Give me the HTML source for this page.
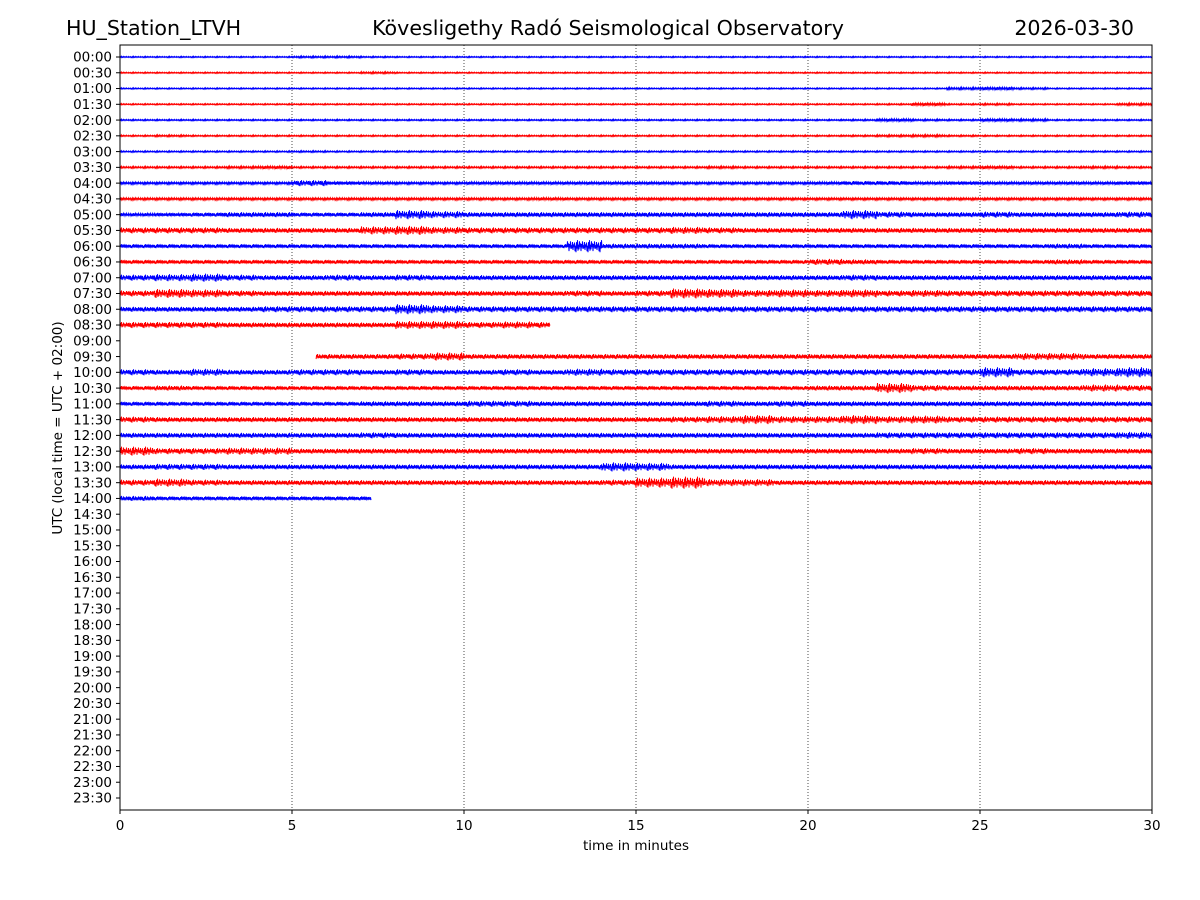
<!DOCTYPE html>
<html><head><meta charset="utf-8">
<style>
body{margin:0;background:#fff;}
svg{display:block;font-family:"DejaVu Sans","Liberation Sans",sans-serif;}
</style></head>
<body>
<svg id="chart" width="1200" height="900" viewBox="0 0 1200 900">
<text x="66" y="35" font-size="20.6">HU_Station_LTVH</text>
<text x="608" y="35" font-size="20.6" text-anchor="middle">Kövesligethy Radó Seismological Observatory</text>
<text x="1134" y="35" font-size="20.6" text-anchor="end">2026-03-30</text>
<g id="grid"></g>
<g id="traces"></g>
<rect x="120" y="45" width="1032" height="765" fill="none" stroke="#000" stroke-width="1"/>
<g id="axes" font-size="13.5"></g>
<text x="636" y="850" font-size="13.5" text-anchor="middle">time in minutes</text>
<text transform="translate(62,428) rotate(-90)" font-size="13.5" text-anchor="middle">UTC (local time = UTC + 02:00)</text>
</svg>
<script>
const xTicks=[0,5,10,15,20,25,30];
const rowLabels=[];for(let h=0;h<24;h++){const hh=String(h).padStart(2,'0');rowLabels.push(hh+':00',hh+':30');}
// per-row trace start/end in minutes (null = no data)
const rowStart=[0,0,0,0,0,0,0,0,0,0,0,0,0,0,0,0,0,0,null,5.7,0,0,0,0,0,0,0,0,0];
const rowEnd=[30,30,30,30,30,30,30,30,30,30,30,30,30,30,30,30,30,12.5,null,30,30,30,30,30,30,30,30,30,7.3];
// per-minute half-amplitude envelopes (px), 30 bins per row
const env=[
[.6,.6,.6,.6,.6,1,1,.8,.6,.6,.6,.6,.6,.6,.6,.6,.6,.6,.6,.6,.6,.6,.6,.6,.6,.6,.6,.6,.6,.6],
[.6,.6,.6,.6,.6,.6,.6,1,.6,.6,.6,.6,.6,.6,.6,.6,.6,.6,.6,.6,.6,.6,.6,.6,.6,.6,.6,.6,.6,.6],
[.7,.7,.7,.7,.7,.7,.7,.7,.7,.7,.7,.7,.7,.7,.7,.7,.7,.7,.7,.7,.7,.7,.7,.7,1.2,1.5,1,.7,.7,.7],
[.7,.7,.7,.7,.7,.7,.7,.7,.7,.7,.7,.7,.7,.7,.7,.7,.7,.7,.7,.7,.7,.7,.8,1.5,.8,1,.7,.7,.7,1.2],
[.8,.8,.8,.8,.8,.8,.8,.8,.8,.8,.8,.8,.8,.8,.8,.8,.8,.8,.8,.8,.8,.9,1.5,1,.9,1.5,1.2,.8,.8,.8],
[.8,1,.8,.8,.8,.8,.8,.8,.8,.8,.8,.8,.8,.8,.8,.8,.8,.8,.8,.8,.8,.9,1.1,1.2,.9,.8,.8,.8,.8,.8],
[.8,.8,.8,.8,.8,.9,.8,.8,.8,.8,.8,.8,.8,.8,.8,.8,.8,.8,.8,.8,.8,.8,.8,.8,.8,.8,.8,.8,.8,.8],
[1,1,1,1.2,1.5,1,1,1,1,1,1,1,1,1,1,1,1,1.2,1,1,1,1,1,1,1.2,1.5,1,1,1.2,1],
[1.3,1.3,1.3,1.3,1.3,3,1.8,1.5,1.3,1.3,1.5,1.5,1.5,1.5,1.5,1.5,1.3,1.3,1.3,1.3,1.5,2,2,1.5,1.8,1.5,1.5,1.5,1.5,1.8],
[1.3,1.3,1.3,1.3,1.3,1.3,1.3,1.3,1.3,1.3,1.3,1.3,1.5,1.3,1.3,1.3,1.3,1.3,1.3,1.3,1.3,1.3,1.3,1.3,1.3,1.3,1.3,1.3,1.3,1.3],
[1.5,1.8,2,2.5,2.5,2,2,2.5,4.5,3.5,2.5,2.5,2.5,2.5,2.5,2.5,2.5,2.5,2.5,2.5,2.5,4.5,3,2.5,2.5,3,2.5,2.5,2.5,3],
[3,3,3,2.5,2.5,2.5,2.5,4,4.5,3.5,3,3,3,3,3,3,3.5,3,2.5,2.5,2.5,2.5,2.5,2.5,2.5,2.5,2.5,2.5,2.5,2.5],
[2,2,2,2,2,2,2,2,2,2,2,2,2,6,2.5,2.5,2.5,2,2,2,2,2,2,2,2,2,2,2.5,2,2],
[2,2,2,2,2,2,2,2,2,2,2,2,2,2,2,2,2,2,2,2,3,2.5,2,2,2,2,2,2.5,2,2],
[3,3.5,4,3,2.5,2.5,3,2.5,3,2.5,2.5,2.5,2.5,2.5,2.5,2.5,2.5,2.5,2.5,2.5,2.5,3,2.5,2.5,2.5,2.5,2.5,2.5,2.5,2.5],
[3,4.5,4,3,2.5,2.5,2.5,2.5,2.5,2.5,2.5,2.5,2.5,3,2.5,3,5,4.5,3.5,4,3.5,4,3,3.5,3,3,3,3,3,3],
[2.5,2.5,2.5,2.5,3,3,3,3,5,4,3,3,3,3,3,3,3,3,3,3,3,3,3,3,3,3,3,3,3,3],
[3,3,3,2.5,2.5,2.5,2.5,2.5,4,4,3,3.5,3,0,0,0,0,0,0,0,0,0,0,0,0,0,0,0,0,0],
[0,0,0,0,0,0,0,0,0,0,0,0,0,0,0,0,0,0,0,0,0,0,0,0,0,0,0,0,0,0],
[0,0,0,0,0,2.5,2.5,2.5,3,4,2.5,2.5,2.5,2.5,2.5,2.5,2.5,2.5,2.5,2.5,2.5,2.5,2.5,2.5,2.5,2.5,3.5,3.5,2.5,2.5],
[3,2.5,3.5,2.5,2.5,3,3,2.5,3,2.5,2.5,3,2.5,3.5,3,3,3,3,3,3,3,3,3,3,3,5,3,3,4,5],
[2,2.5,2,2,2,2,2,2,2,2,2,2,2,2,2,2,2,2,2,2,2.5,2.5,5,3,2.5,2.5,2.5,2.5,3.5,3],
[2,2,2,2,2,2,2,2.5,2.5,2.5,3,3,2.5,2.5,2.5,2.5,2.5,3,2.5,3,2.5,2.5,2.5,2.5,2.5,2.5,2.5,2.5,2.5,2.5],
[3,2.5,2.5,2.5,2.5,2.5,2.5,2.5,2.5,2.5,2.5,2.5,2.5,2.5,2.5,2.5,3,3.5,4.5,3.5,3.5,4.5,3.5,4,3,3,3,3,3,3],
[2.5,2.5,2.5,2.5,2.5,2.5,2.5,3,2.5,2.5,2.5,2.5,2.5,2.5,2.5,2.5,2.5,2.5,2.5,2.5,2.5,2.5,3,3,3,3,3,3,3,3.5],
[4.5,3,3,3.5,3.5,2.5,2.5,2.5,2.5,2.5,2.5,2.5,2.5,2.5,2.5,2.5,2.5,2.5,2.5,2.5,2.5,2.5,2.5,3,2.5,2.5,3,2.5,2.5,2.5],
[2.5,3,3,2.5,2.5,2.5,2.5,2.5,2.5,2.5,2.5,2.5,2.5,2.5,4.5,4,2.5,2.5,2.5,2.5,2.5,2.5,2.5,2.5,2.5,2.5,2.5,2.5,2.5,2.5],
[3,4,3,2.5,2.5,2.5,2.5,2.5,2.5,2.5,2.5,2.5,2.5,2.5,3,5,6,3.5,3.5,2.5,2.5,2.5,2.5,2.5,2.5,2.5,2.5,2.5,2.5,2.5],
[2.5,2,2,2,2,2,2,2,0,0,0,0,0,0,0,0,0,0,0,0,0,0,0,0,0,0,0,0,0,0]
];
const NS='http://www.w3.org/2000/svg';
const X0=120,X1=1152,Y0=57,DY=(798-57)/47;
const xs=m=>X0+(m/30)*(X1-X0);
const ys=i=>Y0+i*DY;
const grid=document.getElementById('grid'),axes=document.getElementById('axes'),tr=document.getElementById('traces');
xTicks.forEach(t=>{
  const x=xs(t);
  if(t>0&&t<30){const l=document.createElementNS(NS,'line');
  
  
  l.setAttribute('x1',x);l.setAttribute('x2',x);l.setAttribute('y1',45);l.setAttribute('y2',810);
  l.setAttribute('stroke','#000');l.setAttribute('stroke-width','0.7');l.setAttribute('stroke-dasharray','1,2');grid.appendChild(l);}
  const tk=document.createElementNS(NS,'line');
  
  
  tk.setAttribute('x1',x);tk.setAttribute('x2',x);tk.setAttribute('y1',810);tk.setAttribute('y2',814);tk.setAttribute('stroke','#000');axes.appendChild(tk);
  const tx=document.createElementNS(NS,'text');
  
  
  tx.setAttribute('x',x);tx.setAttribute('y',830);tx.setAttribute('text-anchor','middle');tx.textContent=t;axes.appendChild(tx);
});
rowLabels.forEach((lab,i)=>{
  const y=ys(i);
  const tk=document.createElementNS(NS,'line');
  
  
  tk.setAttribute('x1',116);tk.setAttribute('x2',120);tk.setAttribute('y1',y);tk.setAttribute('y2',y);tk.setAttribute('stroke','#000');axes.appendChild(tk);
  const tx=document.createElementNS(NS,'text');
  
  
  tx.setAttribute('x',112);tx.setAttribute('y',y+4.7);tx.setAttribute('text-anchor','end');tx.textContent=lab;axes.appendChild(tx);
});
// carrier texture for wiggle rendering (fixed pattern, not data)
const carrier=[1,-.7,.4,-1,.8,-.3,.6,-.9,.2,-.5,.95,-.6,.35,-.85,.7,-.25,.5,-1,.85,-.4,.3,-.75,.9,-.15];
env.forEach((e,i)=>{
  if(rowStart[i]===null)return;
  const y=ys(i);
  let d='';const x0=xs(rowStart[i]),x1=xs(rowEnd[i]);let k=0;
  for(let x=x0;x<=x1;x+=0.5,k++){
    const m=(x-X0)/(X1-X0)*30;const b=Math.min(29,Math.floor(m));
    const a=Math.max(0.7,e[b])*carrier[k%carrier.length]*(0.5+0.5*Math.abs(carrier[(k*7+3)%carrier.length]));
    d+=(k?'L':'M')+x.toFixed(1)+' '+(y+a).toFixed(2);
  }
  const p=document.createElementNS(NS,'path');
  
  
  p.setAttribute('d',d);p.setAttribute('fill','none');
  p.setAttribute('stroke',i%2?'#ff0000':'#0000ff');p.setAttribute('stroke-width','1');
  tr.appendChild(p);
});
</script>
</body></html>
